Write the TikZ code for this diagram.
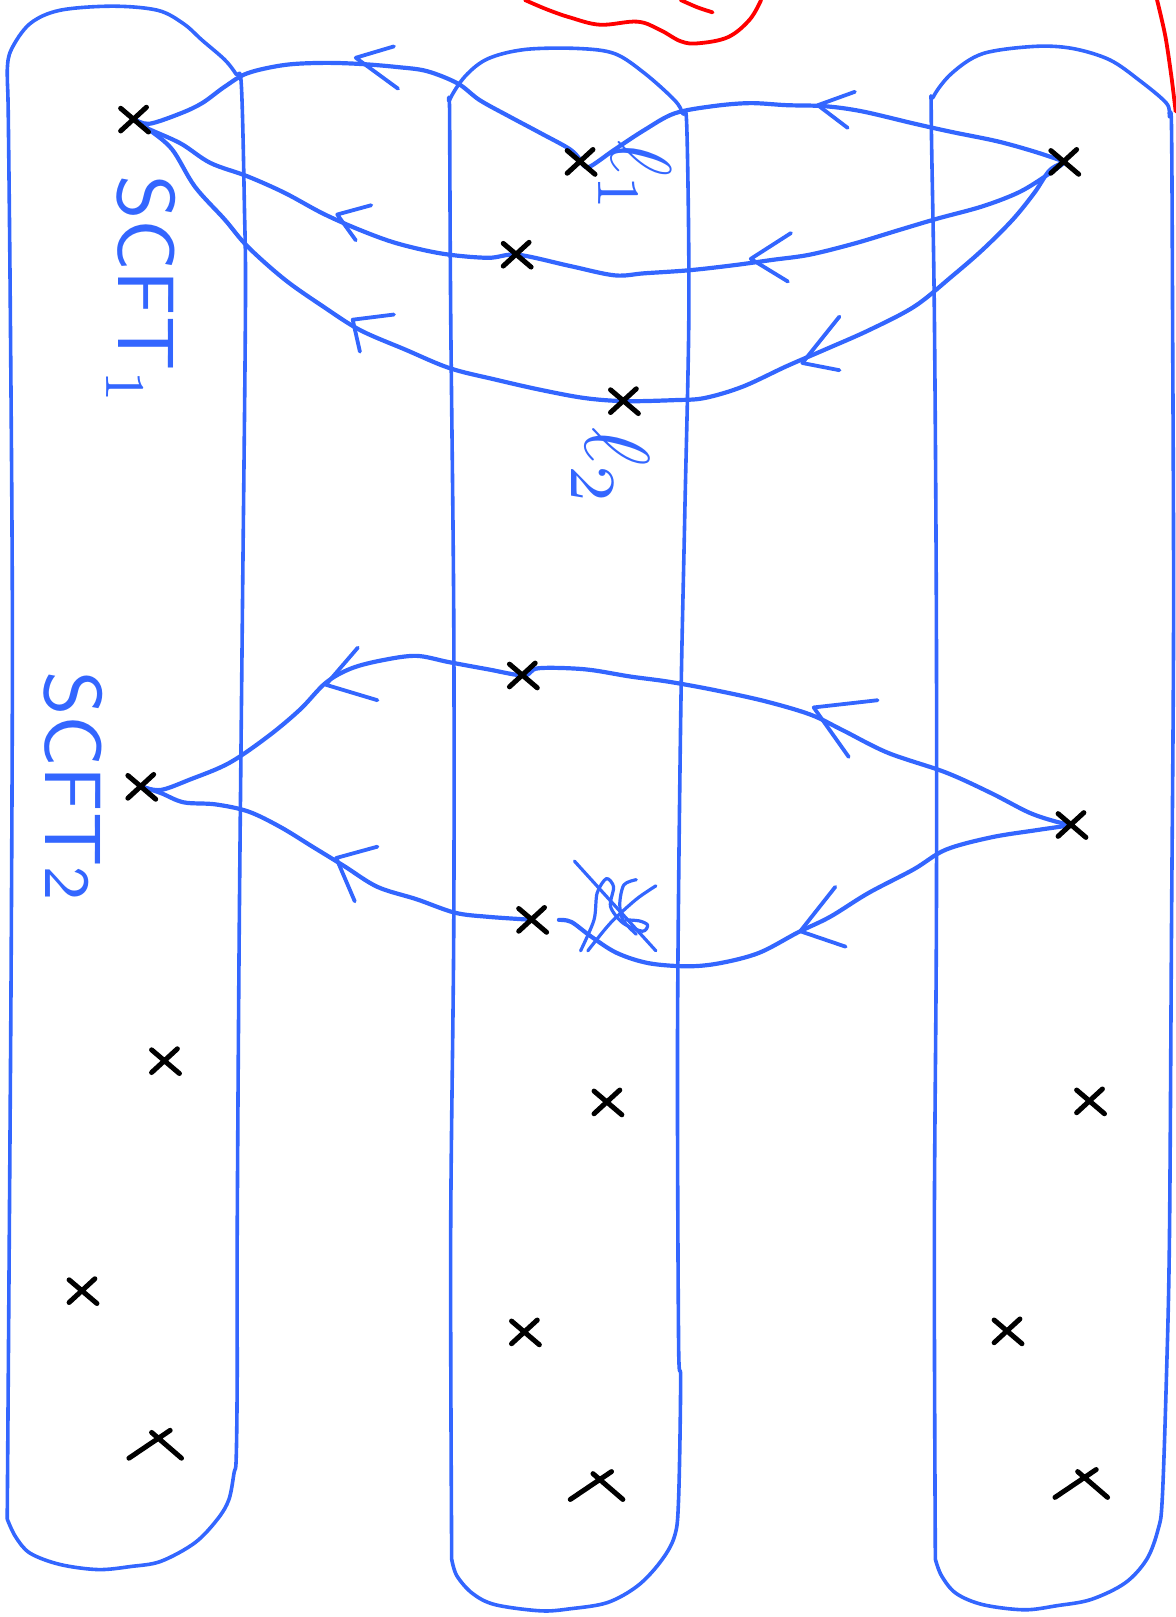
\documentclass[tikz,border=0pt]{standalone}
\usepackage{fontspec}
\definecolor{penblue}{RGB}{51,102,255}
\tikzset{
  tube/.style={draw=penblue, line width=1.8pt, line cap=round, line join=round},
  loopline/.style={draw=penblue, line width=2.1pt, line cap=round, line join=round},
  chev/.style={draw=penblue, line width=1.9pt, line cap=round, line join=round},
  scrib/.style={draw=penblue, line width=1.6pt, line cap=round, line join=round},
  redline/.style={draw=red, line width=1.9pt, line cap=round, line join=round},
  xmark/.style={draw=black, line width=2.5pt, line cap=round},
  lbl/.style={text=penblue, inner sep=0pt, font=\sffamily},
  xx/.pic={\draw[xmark] (-14,-11) -- (13,12) (11,-12) -- (-14,11);},
  lam/.pic={\draw[xmark] (-27,14) -- (13,-13) (-5,-11) -- (24,14);}
}
\begin{document}
\begin{tikzpicture}[x=0.5158pt,y=-0.5158pt]
\useasboundingbox (0,0) rectangle (1140,1568);

% ---------- red strokes at the top ----------
\draw[redline] plot[smooth,tension=0.6] coordinates {(509,0) (530,9) (553,17) (582,24) (618,21) (640,29) (660,40) (677,42) (706,36) (727,19) (738,0)};
\draw[redline] plot[smooth] coordinates {(660,0) (676,7) (691,12)};
\draw[redline] plot[smooth] coordinates {(1122,0) (1130,35) (1136,75) (1140,108)};

% ---------- tubes ----------
\draw[tube] plot[smooth,tension=0.55] coordinates {(7,1473) (9,1200) (11,900) (12,600) (10,300) (8,110) (7,69) (11,48) (29,23) (58,10) (109,6) (153,10) (178,23) (196,39) (218,58) (229,72) (234,82) (237,200) (238,300) (235,600) (232,900) (230,1200) (230,1338) (229,1415) (227,1428) (222,1454) (211,1473) (189,1496) (156,1514) (127,1519) (95,1522) (58,1517) (29,1506) (15,1490) (7,1473)};
\draw[tube] plot[smooth,tension=0.55] coordinates {(438,1512) (437,1200) (440,900) (440,600) (437,300) (436,111) (436,97) (451,74) (473,57) (509,48) (560,47) (596,52) (625,71) (654,97) (662,110) (666,124) (668,300) (664,500) (660,700) (657,1000) (658,1300) (660,1338) (658,1454) (654,1490) (640,1515) (618,1538) (589,1554) (553,1560) (524,1562) (480,1556) (458,1545) (443,1528) (438,1512)};
\draw[tube] plot[smooth,tension=0.55] coordinates {(907,1512) (906,1200) (908,900) (908,600) (906,300) (903,111) (905,94) (923,71) (953,52) (1003,45) (1040,47) (1076,58) (1105,78) (1131,100) (1134,113) (1136,124) (1137,300) (1138,600) (1136,900) (1134,1200) (1131,1338) (1127,1454) (1123,1483) (1112,1512) (1091,1535) (1058,1551) (1025,1557) (993,1561) (953,1556) (927,1545) (913,1528) (907,1512)};

% ---------- marked points ----------
\coordinate (p1) at (131,116);
\coordinate (p2) at (564,157);
\coordinate (p3) at (502,247);
\coordinate (p4) at (606,389);
\coordinate (p5) at (1033,157);
\coordinate (q1) at (508,655);
\coordinate (q2) at (138,763);
\coordinate (q3) at (1040,800);
\coordinate (q4) at (517,892);
\coordinate (r1) at (161,1029);
\coordinate (r2) at (590,1069);
\coordinate (r3) at (1058,1068);
\coordinate (r4) at (81,1252);
\coordinate (r5) at (510,1292);
\coordinate (r6) at (978,1291);
\coordinate (r7) at (152,1400);
\coordinate (r8) at (580,1440);
\coordinate (r9) at (1050,1438);

% ---------- upper loops ----------
\draw[loopline] plot[smooth,tension=0.55] coordinates {(p1) (145,120) (175,110) (196,100) (218,84) (240,71) (276,63) (313,61) (349,62) (385,65) (414,69) (444,81) (465,97) (494,113) (524,129) (553,145) (p2)};
\draw[loopline] plot[smooth,tension=0.55] coordinates {(p2) (571,162) (596,145) (625,126) (654,110) (691,103) (727,100) (763,102) (800,103) (836,108) (887,120) (923,128) (967,137) (1003,147) (p5)};
\draw[loopline] plot[smooth,tension=0.55] coordinates {(p1) (142,124) (175,139) (204,158) (240,171) (276,187) (313,207) (349,223) (385,236) (429,246) (473,250) (p3) (553,258) (596,267) (625,265) (669,262) (713,257) (749,252) (785,247) (829,236) (872,223) (909,212) (953,200) (989,186) (1018,168) (p5)};
\draw[loopline] plot[smooth,tension=0.55] coordinates {(p1) (145,126) (167,145) (189,181) (218,213) (240,239) (276,271) (313,297) (349,320) (393,339) (436,357) (480,368) (524,378) (567,386) (p4) (654,388) (683,386) (720,375) (763,355) (800,339) (843,320) (887,297) (923,268) (953,242) (982,213) (1003,187) (1018,165) (p5)};

% arrow heads (upper)
\draw[chev] (382,45) -- (345,56) -- (386,86);
\draw[chev] (829,89) -- (793,102) -- (822,124);
\draw[chev] (360,199) -- (327,208) -- (345,233);
\draw[chev] (767,226) -- (728,251) -- (764,273);
\draw[chev] (382,305) -- (342,310) -- (349,341);
\draw[chev] (814,307) -- (778,352) -- (814,359);

% ---------- lower loop ----------
\draw[loopline] plot[smooth,tension=0.55] coordinates {(q2) (156,766) (184,756) (222,740) (260,714) (291,688) (316,662) (341,648) (372,640) (404,636) (435,642) (473,649) (q1) (522,648) (567,649) (611,656) (648,661) (692,669) (742,680) (786,693) (817,708) (861,730) (917,749) (961,769) (998,788) (1025,797) (q3)};
\draw[loopline] plot[smooth,tension=0.55] coordinates {(q2) (156,769) (178,778) (209,780) (241,787) (272,802) (303,821) (334,840) (366,860) (404,872) (441,885) (473,889) (q4)};
\draw[loopline] plot[smooth,tension=0.55] coordinates {(542,892) (554,894) (573,908) (598,924) (629,934) (667,937) (698,934) (736,924) (774,904) (805,889) (842,866) (886,843) (917,824) (961,812) (1005,805) (q3)};

% arrow heads (lower)
\draw[chev] (347,628) -- (316,664) -- (366,679);
\draw[chev] (851,679) -- (789,686) -- (823,734);
\draw[chev] (366,821) -- (326,832) -- (344,874);
\draw[chev] (810,860) -- (776,903) -- (820,918);

% crossed-out scribble
\draw[scrib] (557,835) -- (636,922);
\draw[scrib] plot[smooth,tension=0.5] coordinates {(563,922) (576,892) (579,866) (588,852) (595,860) (592,879) (604,895) (623,903) (628,897) (620,893) (607,892)};
\draw[scrib] plot[smooth,tension=0.5] coordinates {(617,853) (605,858) (601,876) (604,892) (617,906)};
\draw[scrib] plot[smooth,tension=0.5] coordinates {(636,859) (617,872) (592,895) (570,922)};

% ---------- crosses ----------
\foreach \p in {p1,p2,p3,p4,p5,q1,q2,q3,q4,r1,r2,r3,r4,r5,r6} \pic at (\p) {xx};
\foreach \p in {r7,r8,r9} \pic at (\p) {lam};

% ---------- labels ----------
\node[lbl, rotate=-90, scale=4] (scft1) at (137,282) {SCFT$_1$};
\node[lbl, rotate=-90, scale=4] (scft2) at (71,762) {SCFT{\footnotesize 2}};
\node[lbl, rotate=-90, scale=4.3] (l1) at (616,172) {$\ell_1$};
\node[lbl, rotate=-90, scale=4.6] (l2) at (592,453) {$\ell_2$};
\end{tikzpicture}
\end{document}
